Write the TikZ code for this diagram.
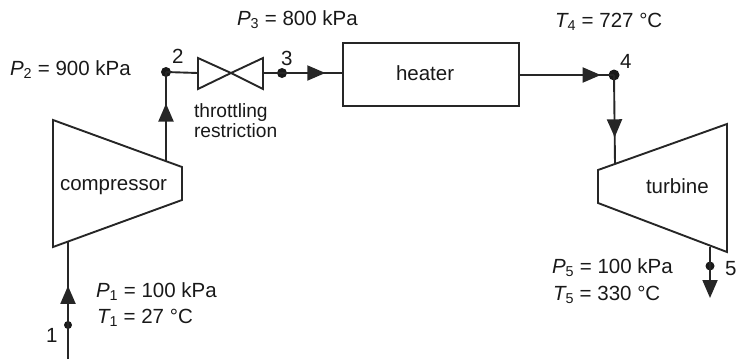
\documentclass[tikz,border=0pt]{standalone}
\usepackage{fontspec}
\setmainfont{Liberation Sans}
\usetikzlibrary{arrows.meta,decorations.markings}
\newcommand{\qty}[2]{{\itshape #1}\textsubscript{#2}}
\tikzset{
  x=1pt,y=-1pt,
  every node/.style={font=\fontsize{20.5}{22}\selectfont,inner sep=0pt,outer sep=0pt},
  lbl/.style={anchor=base west,text=black!90},
  smalllbl/.style={lbl,font=\fontsize{19.2}{21}\selectfont},
  part/.style={draw=black!85,line width=1.9pt,line join=miter},
  pipe/.style={draw=black!85,line width=1.9pt},
  dotpt/.style={circle,fill=black!90,minimum size=10pt},
  flowat/.style={postaction={decorate},decoration={markings,mark=at position #1 with {\arrow{Triangle[length=18pt,width=15pt]}}}},
}
\begin{document}
\begin{tikzpicture}
\useasboundingbox (0,0) rectangle (738,360);
% coordinates
\coordinate (in) at (68,359);
\coordinate (compIn) at (68,241);
\coordinate (compOut) at (166,162);
\coordinate (turbIn) at (615,164);
\coordinate (turbOut) at (710,247);
\coordinate (out) at (710,298);
\coordinate (valveL) at (198,73);
\coordinate (valveR) at (263,73);
\coordinate (valveC) at (231,73);
% shapes
\draw[part] (53,120) -- (182,167) -- (182,200) -- (53,247) -- cycle;
\draw[part] (598,170) -- (727,124) -- (727,252) -- (598,203) -- cycle;
\node[draw=black!85,line width=1.5pt,minimum width=176pt,minimum height=63pt] (heater) at (431,74.5) {};
\draw[part] (valveL |- 0,58) -- (valveL |- 0,89) -- (valveC) -- (valveR |- 0,58) -- (valveR |- 0,89) -- (valveC) -- cycle;
% state points
\node[dotpt] (p2) at (166,72) {};
\node[dotpt] (p3) at (282,73) {};
\node[dotpt,minimum size=11pt] (p4) at (614,75) {};
\node[dotpt,minimum size=8pt] (p1) at (68,325) {};
\node[dotpt,minimum size=9pt] (p5) at (710,266) {};
% connectors
\draw[pipe,flowat=0.62] (in) -- (compIn);
\draw[pipe,flowat=0.65] (compOut) -- (p2.center);
\draw[pipe] (p2.center) -- (valveL);
\draw[pipe] (valveR) -- (p3.center);
\draw[pipe,flowat=0.71] (p3.center) -- (heater.west |- p3);
\draw[pipe,flowat=0.86] (heater.east |- p4) -- (p4.center);
\draw[pipe,flowat=0.70] (p4.center) -- (turbIn);
\draw[pipe] (turbOut) -- (p5.center);
\draw[pipe,-{Triangle[length=18pt,width=15pt]}] (p5.center) -- (out);
% texts
\node[lbl] (tHeater) at (396,80) {heater};
\node[lbl] (tComp) at (60,190) {compressor};
\node[lbl] (tTurb) at (646,193) {turbine};
\node[smalllbl] (tThr1) at (194,117) {throttling};
\node[smalllbl] (tThr2) at (194,137) {restriction};
\node[lbl] (tP2) at (10,75) {\qty{P}{2} = 900 kPa};
\node[lbl] (tP3) at (237,25) {\qty{P}{3} = 800 kPa};
\node[lbl] (tT4) at (555,27) {\qty{T}{4} = 727 °C};
\node[lbl] (tP1) at (96,297) {\qty{P}{1} = 100 kPa};
\node[lbl] (tT1) at (97,323) {\qty{T}{1} = 27 °C};
\node[lbl] (tP5) at (552,273) {\qty{P}{5} = 100 kPa};
\node[lbl] (tT5) at (553,300) {\qty{T}{5} = 330 °C};
\node[lbl] (n1) at (46,342) {1};
\node[lbl] (n2) at (172,63) {2};
\node[lbl] (n3) at (281,65) {3};
\node[lbl] (n4) at (620,68) {4};
\node[lbl] (n5) at (725,275) {5};
\end{tikzpicture}
\end{document}
